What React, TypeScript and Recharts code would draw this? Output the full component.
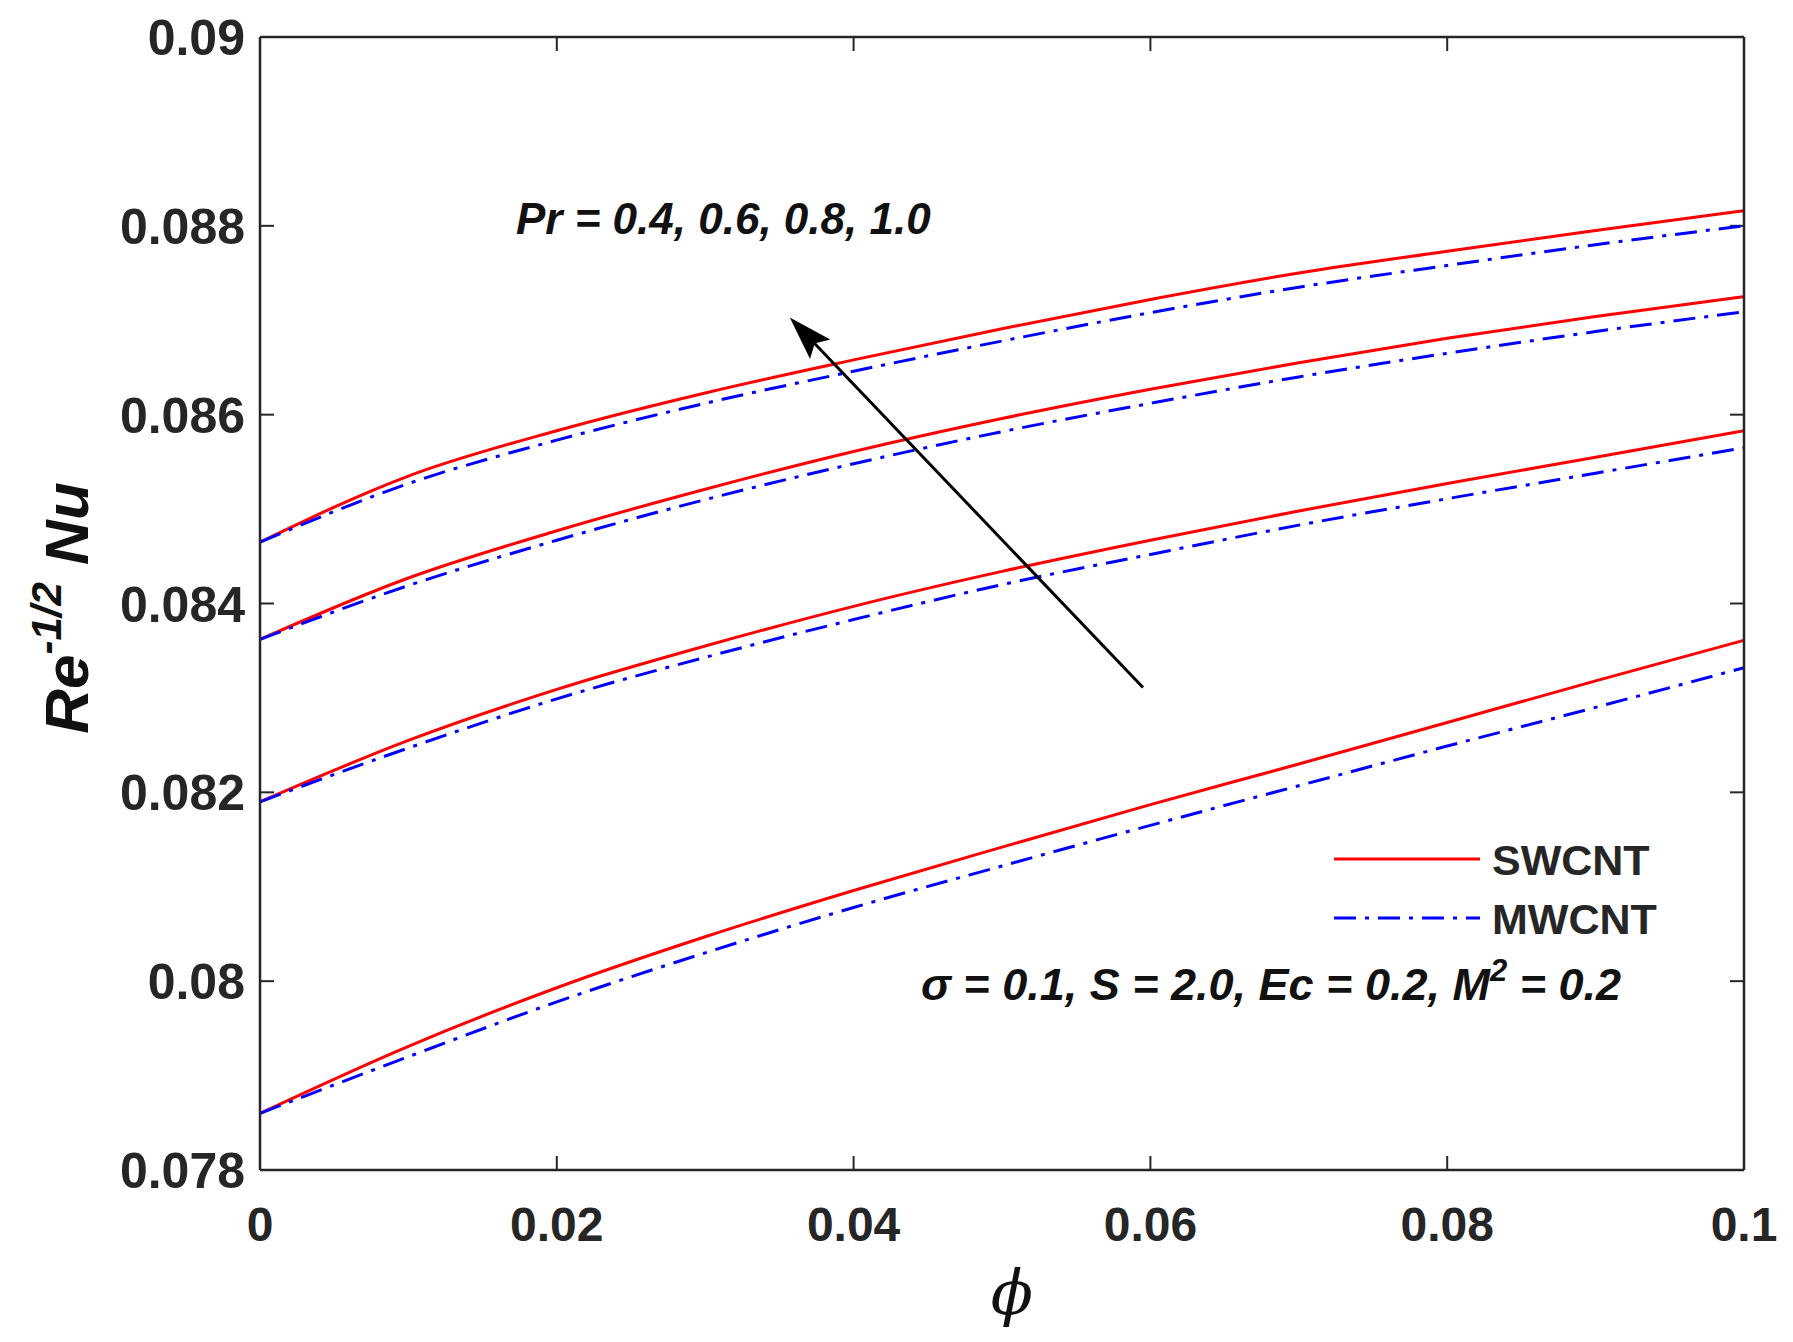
import React from 'react';
import { LineChart, Line, XAxis, YAxis, Legend, ReferenceLine } from 'recharts';

// phi (nanoparticle volume fraction)
const phi = [0, 0.01, 0.02, 0.03, 0.04, 0.05, 0.06, 0.07, 0.08, 0.09, 0.1];

// Re^-1/2 Nu
const swPr04 = [0.0786, 0.07931, 0.07993, 0.08047, 0.08096, 0.08142, 0.08187, 0.0823, 0.08274, 0.08318, 0.08361];
const mwPr04 = [0.0786, 0.0792, 0.07978, 0.0803, 0.08078, 0.08122, 0.08165, 0.08207, 0.08249, 0.0829, 0.08332];
const swPr06 = [0.0819, 0.08255, 0.08309, 0.08355, 0.08397, 0.08434, 0.08467, 0.08498, 0.08527, 0.08555, 0.08583];
const mwPr06 = [0.0819, 0.08247, 0.08299, 0.08343, 0.08383, 0.0842, 0.08452, 0.08483, 0.08511, 0.08538, 0.08565];
const swPr08 = [0.08362, 0.08427, 0.08477, 0.08521, 0.08561, 0.08596, 0.08627, 0.08655, 0.08681, 0.08704, 0.08725];
const mwPr08 = [0.08362, 0.08419, 0.08467, 0.0851, 0.08548, 0.08582, 0.08612, 0.0864, 0.08665, 0.08688, 0.08709];
const swPr10 = [0.08465, 0.08535, 0.08583, 0.08623, 0.08658, 0.08691, 0.08722, 0.0875, 0.08773, 0.08795, 0.08816];
const mwPr10 = [0.08465, 0.08527, 0.08573, 0.08612, 0.08646, 0.08678, 0.08708, 0.08735, 0.08758, 0.0878, 0.088];

const prValues = ['0.4', '0.6', '0.8', '1.0'];
const legendOrder = ['SWCNT', 'MWCNT'];

const xTicks = [0, 0.02, 0.04, 0.06, 0.08, 0.1];
const xTickLabels = ['0', '0.02', '0.04', '0.06', '0.08', '0.1'];
const yTicks = [0.078, 0.08, 0.082, 0.084, 0.086, 0.088, 0.09];
const yTickLabels = ['0.078', '0.08', '0.082', '0.084', '0.086', '0.088', '0.09'];

// arrow across the curves, in data units (tail -> head)
const arrowTail = { x: 0.0595, y: 0.08311 };
const arrowHead = { x: 0.0357, y: 0.08703 };

const data = phi.map((p, i) => ({
    phi: p,
    sw04: swPr04[i], mw04: mwPr04[i],
    sw06: swPr06[i], mw06: mwPr06[i],
    sw08: swPr08[i], mw08: mwPr08[i],
    sw10: swPr10[i], mw10: mwPr10[i],
}));

const RED = '#ff0000';
const BLUE = '#0000ff';
const DASH_DOT = '22 9 4 9';
const AXIS_COLOR = '#262626';
const TICK_LEN = 14;
const SANS = '"Liberation Sans", Arial, Helvetica, sans-serif';

const W = 1793;
const H = 1342;

const BottomLabel = (props: any) => {
    const { x, y, payload } = props;
    return (
        <text x={x} y={y + 71} textAnchor="middle" fontFamily={SANS} fontWeight="bold" fontSize={48} fill={AXIS_COLOR}>
            {xTickLabels[xTicks.indexOf(payload.value)]}
        </text>
    );
};

const LeftLabel = (props: any) => {
    const { x, y, payload } = props;
    const idx = yTicks.findIndex(t => Math.abs(t - payload.value) < 1e-9);
    return (
        <text x={x - 15} y={y + 18} textAnchor="end" fontFamily={SANS} fontWeight="bold" fontSize={50} fill={AXIS_COLOR}>
            {yTickLabels[idx]}
        </text>
    );
};

// inward tick marks on the bottom and top edges of the box
const XTickPair = (props: any) => {
    const { x1, y1, y2 } = props;
    const top = Math.min(y1, y2);
    const bottom = Math.max(y1, y2);
    return (
        <g>
            <line x1={x1} x2={x1} y1={bottom} y2={bottom - TICK_LEN} stroke={AXIS_COLOR} strokeWidth={2} />
            <line x1={x1} x2={x1} y1={top} y2={top + TICK_LEN} stroke={AXIS_COLOR} strokeWidth={2} />
        </g>
    );
};

// inward tick marks on the left and right edges of the box
const YTickPair = (props: any) => {
    const { x1, x2, y1 } = props;
    const left = Math.min(x1, x2);
    const right = Math.max(x1, x2);
    return (
        <g>
            <line x1={left} x2={left + TICK_LEN} y1={y1} y2={y1} stroke={AXIS_COLOR} strokeWidth={2} />
            <line x1={right} x2={right - TICK_LEN} y1={y1} y2={y1} stroke={AXIS_COLOR} strokeWidth={2} />
        </g>
    );
};

const ArrowShape = (props: any) => {
    const { x1, y1, x2, y2 } = props;
    const ang = Math.atan2(y2 - y1, x2 - x1);
    const len = 44;
    const half = 14;
    const bx = x2 - len * Math.cos(ang);
    const by = y2 - len * Math.sin(ang);
    const nx = bx + 8 * Math.cos(ang);
    const ny = by + 8 * Math.sin(ang);
    const p1 = `${bx + half * Math.sin(ang)},${by - half * Math.cos(ang)}`;
    const p2 = `${bx - half * Math.sin(ang)},${by + half * Math.cos(ang)}`;
    return (
        <g>
            <line x1={x1} y1={y1} x2={nx} y2={ny} stroke="#000" strokeWidth={3} />
            <polygon points={`${x2},${y2} ${p1} ${nx},${ny} ${p2}`} fill="#000" />
        </g>
    );
};

const legendDash: Record<string, string | undefined> = { SWCNT: undefined, MWCNT: DASH_DOT };

const LegendContent = (props: any) => {
    const items = legendOrder
        .map(name => (props.payload || []).find((p: any) => p.value === name))
        .filter(Boolean);
    return (
        <svg width={340} height={120}>
            {items.map((item: any, i: number) => (
                <g key={item.value}>
                    <line x1={0} x2={146} y1={25 + i * 59} y2={25 + i * 59} stroke={item.color} strokeWidth={3}
                        strokeDasharray={legendDash[item.value]} />
                    <text x={158} y={41 + i * 59} fontFamily={SANS} fontWeight="bold" fontSize={43} fill={AXIS_COLOR}>
                        {item.value}
                    </text>
                </g>
            ))}
        </svg>
    );
};

const boxLine = { stroke: AXIS_COLOR, strokeWidth: 2.5 };

export default function App() {
    return (
        <div style={{ position: 'absolute', left: 0, top: 0, width: W, height: H, background: '#fff' }}>
            <LineChart width={W} height={H} data={data} margin={{ top: 37, right: 49, bottom: 112, left: 60 }}>
                <XAxis dataKey="phi" type="number" domain={[0, 0.1]} ticks={xTicks} allowDataOverflow
                    height={60} tickSize={0} tickMargin={0} tickLine={false} tick={<BottomLabel />}
                    axisLine={false} interval={0} />
                <YAxis type="number" domain={[0.078, 0.09]} ticks={yTicks} allowDataOverflow width={200}
                    tickSize={0} tickMargin={0} tickLine={false} tick={<LeftLabel />}
                    axisLine={false} interval={0} />

                {xTicks.map(t => (
                    <ReferenceLine key={`xt${t}`} x={t} ifOverflow="visible" shape={XTickPair} />
                ))}
                {yTicks.map(t => (
                    <ReferenceLine key={`yt${t}`} y={t} ifOverflow="visible" shape={YTickPair} />
                ))}

                <Line type="monotone" dataKey="sw04" name="SWCNT" stroke={RED} strokeWidth={3} dot={false} isAnimationActive={false} />
                <Line type="monotone" dataKey="mw04" name="MWCNT" stroke={BLUE} strokeWidth={3} strokeDasharray={DASH_DOT} dot={false} isAnimationActive={false} />
                <Line type="monotone" dataKey="sw06" name="SWCNT" stroke={RED} strokeWidth={3} dot={false} isAnimationActive={false} />
                <Line type="monotone" dataKey="mw06" name="MWCNT" stroke={BLUE} strokeWidth={3} strokeDasharray={DASH_DOT} dot={false} isAnimationActive={false} />
                <Line type="monotone" dataKey="sw08" name="SWCNT" stroke={RED} strokeWidth={3} dot={false} isAnimationActive={false} />
                <Line type="monotone" dataKey="mw08" name="MWCNT" stroke={BLUE} strokeWidth={3} strokeDasharray={DASH_DOT} dot={false} isAnimationActive={false} />
                <Line type="monotone" dataKey="sw10" name="SWCNT" stroke={RED} strokeWidth={3} dot={false} isAnimationActive={false} />
                <Line type="monotone" dataKey="mw10" name="MWCNT" stroke={BLUE} strokeWidth={3} strokeDasharray={DASH_DOT} dot={false} isAnimationActive={false} />

                {/* box around the plot area */}
                <ReferenceLine x={0} ifOverflow="visible" {...boxLine} />
                <ReferenceLine x={0.1} ifOverflow="visible" {...boxLine} />
                <ReferenceLine y={0.078} ifOverflow="visible" {...boxLine} />
                <ReferenceLine y={0.09} ifOverflow="visible" {...boxLine} />

                <ReferenceLine segment={[arrowTail, arrowHead]} shape={ArrowShape} />

                <Legend layout="horizontal" verticalAlign="middle" align="center" content={<LegendContent />}
                    wrapperStyle={{ position: 'absolute', left: 1334, top: 834, width: 340, height: 120 }} />
            </LineChart>

            <svg width={W} height={H} style={{ position: 'absolute', left: 0, top: 0, pointerEvents: 'none' }}>
                <text x={516} y={234} fontFamily={SANS} fontWeight="bold" fontStyle="italic" fontSize={44} fill="#111">
                    {`Pr = ${prValues.join(', ')}`}
                </text>
                <text x={921} y={1000} fontFamily={SANS} fontWeight="bold" fontStyle="italic" fontSize={45} fill="#111">
                    σ = 0.1, S = 2.0, Ec = 0.2, M<tspan dy={-19} fontSize={31}>2</tspan><tspan dy={19}> = 0.2</tspan>
                </text>
                <text transform="rotate(-90)" x={-608} y={88} textAnchor="middle" fontFamily={SANS} fontWeight="bold"
                    fontStyle="italic" fontSize={62} fill="#111">
                    Re<tspan dy={-27} fontSize={42}>-1/2</tspan><tspan dy={27}> Nu</tspan>
                </text>
                <text x={1012} y={1314} textAnchor="middle" fontFamily='"DejaVu Serif", "Liberation Serif", serif'
                    fontStyle="italic" fontSize={62} fill="#111">
                    ϕ
                </text>
            </svg>
        </div>
    );
}
